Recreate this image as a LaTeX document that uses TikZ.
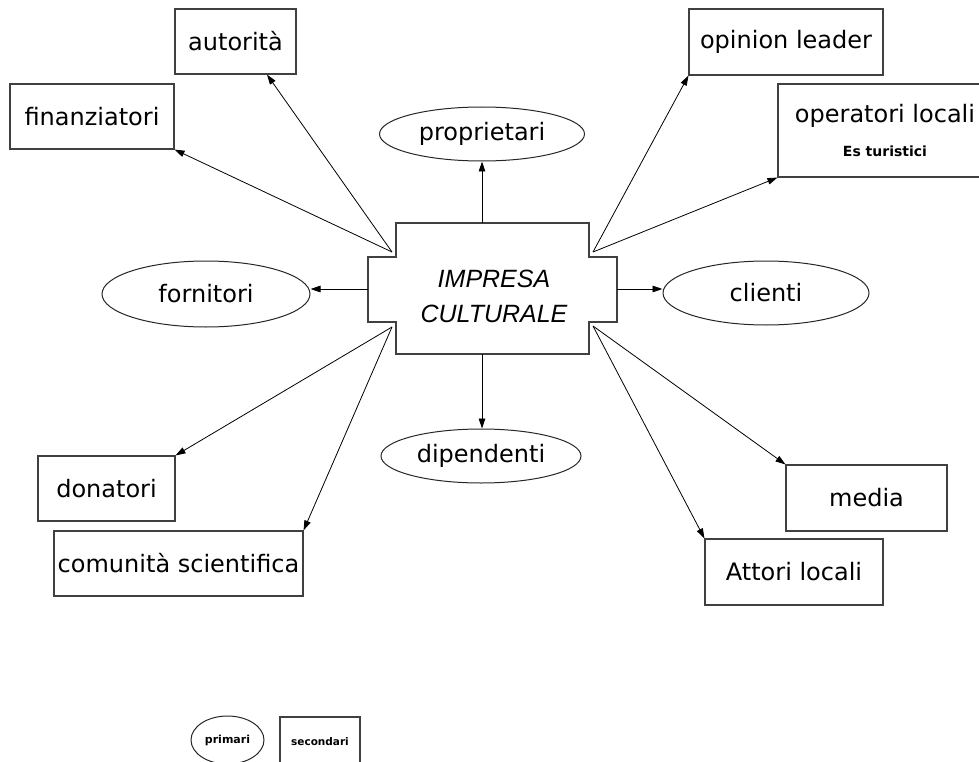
\documentclass[tikz,border=0pt]{standalone}
\usepackage{fontspec}
\setmainfont{DejaVu Sans}
\newfontfamily\arialfont{Liberation Sans}
\usetikzlibrary{arrows.meta,shapes.geometric}

\begin{document}
\begin{tikzpicture}[x=1pt,y=-1pt,
  label font/.style={font=\fontsize{24}{28}\selectfont},
  box/.style={draw=black!75, line width=1.1pt, rectangle, inner sep=0pt, label font},
  oval/.style={draw=black!85, line width=1pt, ellipse, inner sep=0pt, label font},
  arr/.style={line width=0.8pt, -{Triangle[length=10pt,width=6.5pt]}}]

\useasboundingbox (0,0) rectangle (979,762);
\clip (0,0) rectangle (979,762);

% central organisation shape
\draw[line width=1.1pt, draw=black!75, fill=white]
  (396,223) -- (589,223) -- (589,257) -- (617,257) -- (617,322) -- (589,322)
  -- (589,354) -- (396,354) -- (396,322) -- (368,322) -- (368,257) -- (396,257) -- cycle;
\node[align=center, font=\arialfont\itshape\fontsize{25}{35}\selectfont] (core) at (494,296) {IMPRESA\\CULTURALE};

\coordinate (ct) at (482,223);
\coordinate (cb) at (482,354);
\coordinate (cl) at (368,289);
\coordinate (cr) at (617,289);
\coordinate (tl) at (392,252);
\coordinate (tr) at (593,252);
\coordinate (bl) at (392,327);
\coordinate (br) at (593,326);

% primary stakeholders
\node[oval, minimum width=205pt, minimum height=54pt] (proprietari) at (482,134) {proprietari};
\node[oval, minimum width=208pt, minimum height=66pt] (fornitori) at (206,294) {fornitori};
\node[oval, minimum width=206pt, minimum height=64pt] (clienti) at (766,293) {clienti};
\node[oval, minimum width=200pt, minimum height=54pt] (dipendenti) at (481,456) {dipendenti};

% secondary stakeholders
\node[box, minimum width=121pt, minimum height=65pt] (autorita) at (235.5,41.5) {autorità};
\node[box, minimum width=164pt, minimum height=65pt] (finanziatori) at (92,116.5) {finanziatori};
\node[box, minimum width=194pt, minimum height=66pt] (opinion) at (786,42) {opinion leader};
\node[box, minimum width=214pt, minimum height=93pt, align=center] (operatori) at (885,130.5)
  {operatori locali\\[6pt]{\bfseries\fontsize{14}{16}\selectfont Es turistici}};
\node[box, minimum width=137pt, minimum height=65pt] (donatori) at (106.5,488.5) {donatori};
\node[box, minimum width=249pt, minimum height=65pt] (comunita) at (178.5,563.5) {comunità scientifica};
\node[box, minimum width=161pt, minimum height=66pt] (media) at (866.5,498) {media};
\node[box, minimum width=178pt, minimum height=66pt] (attori) at (794,572) {Attori locali};

% legend
\node[oval, minimum width=73pt, minimum height=48pt, font=\bfseries\fontsize{11}{13}\selectfont] (primari) at (227.5,740) {primari};
\node[box, minimum width=80pt, minimum height=50pt, font=\bfseries\fontsize{10.5}{12}\selectfont] (secondari) at (320,742) {secondari};

% relations
\draw[arr] (ct) -- (ct |- proprietari.south);
\draw[arr] (cb) -- (cb |- dipendenti.north);
\draw[arr] (cl) -- (cl -| fornitori.east);
\draw[arr] (cr) -- (cr -| clienti.west);
\draw[arr] (tl) -- ([xshift=31.5pt]autorita.south);
\draw[arr] (tl) -- (finanziatori.south east);
\draw[arr] (tr) -- (opinion.south west);
\draw[arr] (tr) -- (operatori.south west);
\draw[arr] (bl) -- (donatori.north east);
\draw[arr] (bl) -- (comunita.north east);
\draw[arr] (br) -- (media.north west);
\draw[arr] (br) -- (attori.north west);
\end{tikzpicture}
\end{document}
